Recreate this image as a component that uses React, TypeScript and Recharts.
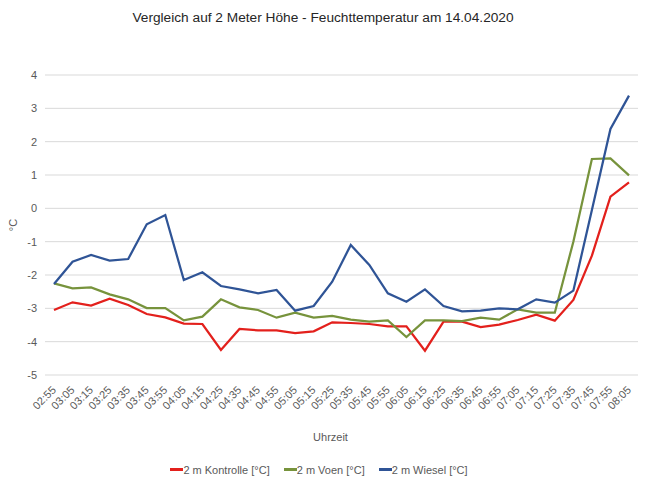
import React from 'react';
import { LineChart, Line, XAxis, YAxis, CartesianGrid, Legend, Label } from 'recharts';

const times = [
  '02:55', '03:05', '03:15', '03:25', '03:35', '03:45', '03:55', '04:05',
  '04:15', '04:25', '04:35', '04:45', '04:55', '05:05', '05:15', '05:25',
  '05:35', '05:45', '05:55', '06:05', '06:15', '06:25', '06:35', '06:45',
  '06:55', '07:05', '07:15', '07:25', '07:35', '07:45', '07:55', '08:05',
];

const kontrolle = [
  -3.05, -2.82, -2.92, -2.71, -2.9, -3.17, -3.27, -3.46,
  -3.47, -4.25, -3.62, -3.66, -3.66, -3.74, -3.69, -3.42,
  -3.44, -3.47, -3.54, -3.54, -4.27, -3.4, -3.4, -3.56,
  -3.49, -3.35, -3.19, -3.37, -2.75, -1.42, 0.35, 0.78,
];

const voen = [
  -2.25, -2.4, -2.37, -2.58, -2.73, -2.99, -2.99, -3.36,
  -3.25, -2.73, -2.97, -3.05, -3.28, -3.13, -3.28, -3.23,
  -3.34, -3.4, -3.36, -3.86, -3.36, -3.36, -3.38, -3.28,
  -3.34, -3.03, -3.13, -3.13, -1.0, 1.48, 1.5, 0.99,
];

const wiesel = [
  -2.27, -1.6, -1.4, -1.57, -1.52, -0.48, -0.2, -2.15,
  -1.92, -2.33, -2.43, -2.55, -2.45, -3.07, -2.93, -2.2,
  -1.1, -1.7, -2.55, -2.8, -2.43, -2.93, -3.09, -3.07,
  -3.0, -3.03, -2.73, -2.83, -2.47, -0.05, 2.38, 3.38,
];

const yTicks = [-5, -4, -3, -2, -1, 0, 1, 2, 3, 4];

const seriesInfo = [
  { key: 'kontrolle', name: '2 m Kontrolle [°C]', color: '#e3201c' },
  { key: 'voen', name: '2 m Voen [°C]', color: '#77933c' },
  { key: 'wiesel', name: '2 m Wiesel [°C]', color: '#2f5496' },
];

const data = times.map((t, i) => ({
  time: t,
  kontrolle: kontrolle[i],
  voen: voen[i],
  wiesel: wiesel[i],
}));

const FONT = '"Liberation Sans", Arial, sans-serif';
const TEXT = '#595959';

const XTick = (props: any) => {
  const { x, y, payload } = props;
  return (
    <text
      x={x}
      y={y}
      transform={`rotate(-45, ${x}, ${y})`}
      textAnchor="end"
      dy="0.35em"
      fill={TEXT}
      fontSize={11}
      fontFamily={FONT}
    >
      {payload.value}
    </text>
  );
};

const LegendContent = () => (
  <div
    style={{
      height: 29,
      display: 'flex',
      justifyContent: 'center',
      alignItems: 'center',
      gap: 14,
      fontFamily: FONT,
      fontSize: 11,
      color: TEXT,
    }}
  >
    {seriesInfo.map((s) => (
      <span key={s.key} style={{ display: 'flex', alignItems: 'center' }}>
        <span style={{ display: 'inline-block', width: 13, height: 3, background: s.color }} />
        {s.name}
      </span>
    ))}
  </div>
);

export default function App() {
  return (
    <div style={{ position: 'absolute', left: 0, top: 0, width: 646, height: 484, background: '#fff' }}>
      <div
        style={{
          position: 'absolute',
          top: 10,
          left: 0,
          width: 646,
          textAlign: 'center',
          fontFamily: FONT,
          fontSize: 13.7,
          color: '#262626',
        }}
      >
        Vergleich auf 2 Meter Höhe - Feuchttemperatur am 14.04.2020
      </div>
      <LineChart
        width={646}
        height={484}
        data={data}
        margin={{ top: 75, right: 8, left: 0, bottom: 0 }}
      >
        <CartesianGrid vertical={false} stroke="#d9d9d9" strokeWidth={1} />
        <XAxis
          dataKey="time"
          interval={0}
          height={80}
          padding={{ left: 9, right: 9 }}
          axisLine={false}
          tickLine={false}
          tickSize={0}
          tickMargin={13}
          tick={<XTick />}
        >
          <Label
            value="Uhrzeit"
            position="insideBottom"
            offset={14}
            dx={-11}
            style={{ fill: TEXT, fontSize: 11, fontFamily: FONT }}
          />
        </XAxis>
        <YAxis
          width={45}
          domain={[-5, 4]}
          ticks={yTicks}
          interval={0}
          axisLine={false}
          tickLine={false}
          tickSize={0}
          tickMargin={8}
          tick={{ fill: TEXT, fontSize: 11, fontFamily: FONT }}
        >
          <Label
            value="°C"
            angle={-90}
            position="insideLeft"
            offset={13}
            style={{ fill: TEXT, fontSize: 11, fontFamily: FONT, textAnchor: 'middle' }}
          />
        </YAxis>
        <Legend verticalAlign="bottom" content={<LegendContent />} />
        {seriesInfo.map((s) => (
          <Line
            key={s.key}
            type="linear"
            dataKey={s.key}
            name={s.name}
            stroke={s.color}
            strokeWidth={2.25}
            dot={false}
            activeDot={false}
            isAnimationActive={false}
          />
        ))}
      </LineChart>
    </div>
  );
}
